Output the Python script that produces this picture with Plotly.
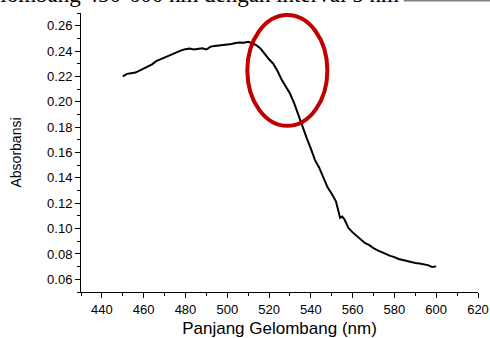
import plotly.graph_objects as go

# Wavelength (nm) and absorbance
wavelength = [450, 452, 454, 456, 458, 460, 462, 464, 466, 468, 470, 472, 474, 476, 478,
              480, 482, 484, 486, 488, 490, 492, 494, 496, 498, 500, 502, 504, 506, 508,
              510, 512, 514, 516, 518, 520, 522, 524, 526, 528, 530, 532, 534, 536, 538,
              540, 542, 544, 546, 548, 550, 552, 554, 555, 556, 558, 560, 562, 564, 566,
              568, 570, 572, 574, 576, 578, 580, 582, 584, 586, 588, 590, 592, 594, 596,
              598, 600]
absorbance = [0.2200, 0.2220, 0.2225, 0.2230, 0.2245, 0.2260, 0.2275, 0.2295, 0.2320, 0.2335,
              0.2350, 0.2365, 0.2380, 0.2395, 0.2405, 0.2415, 0.2420, 0.2413, 0.2418, 0.2422,
              0.2412, 0.2435, 0.2440, 0.2443, 0.2448, 0.2450, 0.2455, 0.2463, 0.2468, 0.2466,
              0.2473, 0.2462, 0.2445, 0.2418, 0.2375, 0.2335, 0.2300, 0.2245, 0.2175, 0.2120,
              0.2065, 0.1990, 0.1895, 0.1810, 0.1715, 0.1630, 0.1540, 0.1480, 0.1400, 0.1325,
              0.1275, 0.1215, 0.1085, 0.1095, 0.1075, 0.1005, 0.0970, 0.0940, 0.0910, 0.0885,
              0.0870, 0.0845, 0.0828, 0.0813, 0.0797, 0.0785, 0.0775, 0.0760, 0.0752, 0.0742,
              0.0738, 0.0728, 0.0725, 0.0718, 0.0712, 0.0698, 0.0702]

x_title = "Panjang Gelombang (nm)"
y_title = "Absorbansi"
top_text = "panjang gelombang 450-600 nm dengan interval 5 nm"

fig = go.Figure()
fig.add_trace(go.Scatter(x=wavelength, y=absorbance, mode="lines",
                         line=dict(color="black", width=2), showlegend=False))

# red highlight ellipse
fig.add_shape(type="circle", xref="x", yref="y", x0=509.6, x1=547.9, y0=0.181, y1=0.2684,
              line=dict(color="#C00000", width=4), layer="above")

# cropped document text at the top
fig.add_annotation(text=top_text, xref="paper", yref="paper", x=(401 - 81) / 397.3, y=1.0,
                   xanchor="right", yanchor="bottom", yshift=4, showarrow=False,
                   font=dict(family="Liberation Serif, Times New Roman, serif", size=23, color="black"))
fig.add_shape(type="rect", xref="paper", yref="paper", x0=(404 - 81) / 397.3, x1=1.05,
              y0=(279 + 11.5) / 279, y1=1.06, fillcolor="#808080", line=dict(width=0))

axis_common = dict(showline=True, linecolor="black", linewidth=1, showgrid=False, zeroline=False,
                   ticks="outside", ticklen=5, tickcolor="black", tickwidth=1, automargin=False,
                   tickfont=dict(size=13, color="black"), mirror=False)

fig.update_xaxes(range=[430, 620], tick0=440, dtick=20, **axis_common,
                 minor=dict(ticks="outside", ticklen=3, dtick=10, tick0=430, tickcolor="black"),
                 title=dict(text=x_title, font=dict(size=17, color="black"), standoff=8))
fig.update_yaxes(range=[0.05, 0.27], tick0=0.06, dtick=0.02, tickformat=".2f", **axis_common,
                 minor=dict(ticks="outside", ticklen=3, dtick=0.01, tick0=0.05, tickcolor="black"),
                 title=dict(text=y_title, font=dict(size=14, color="black"), standoff=22))

fig.update_layout(width=490, height=338, margin=dict(l=81, r=12, t=13, b=46, autoexpand=False),
                  paper_bgcolor="white", plot_bgcolor="white",
                  font=dict(family="Arial, Liberation Sans, sans-serif", color="black"))

fig.write_html("out.html", config={"displayModeBar": False},
               post_script="document.body.style.margin='0';document.body.style.padding='0';")
